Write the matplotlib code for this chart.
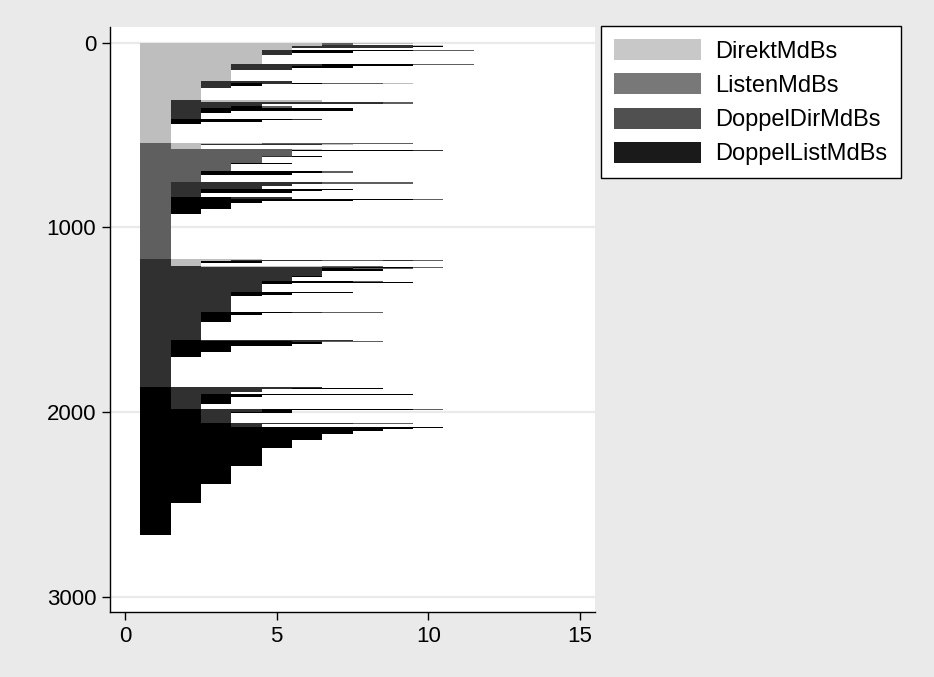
import matplotlib
matplotlib.use('Agg')
import matplotlib.pyplot as plt
from matplotlib.patches import Patch

plt.rcParams['font.family'] = ['Liberation Sans', 'DejaVu Sans']

# states: 1=DirektMdBs, 2=ListenMdBs, 3=DoppelDirMdBs, 4=DoppelListMdBs
state_labels = ['DirektMdBs', 'ListenMdBs', 'DoppelDirMdBs', 'DoppelListMdBs']
bar_colors = ['#bebebe', '#5f5f5f', '#303030', '#000000']
legend_colors = ['#c8c8c8', '#787878', '#505050', '#1a1a1a']

# sequences (one state per period) and number of MdBs with that sequence
direkt_seqs = ['111111211', '1111112', '1111113331', '111113333', '1111133334', '11111',
               '11113444422', '1111344', '11113', '1111',
               '11133344422', '111333444', '1113344', '11133', '111',
               '11333', '113434221', '1134', '113', '11',
               '131111', '133333332', '1333', '13342', '1344444', '134', '13',
               '1444', '144443', '14', '1']
direkt_counts = [5, 6, 5, 6, 6, 10,
                 8, 8, 10, 50,
                 6, 8, 8, 14, 57,
                 12, 6, 10, 8, 69,
                 8, 10, 15, 10, 12, 15, 30,
                 10, 8, 10, 104]

listen_seqs = ['211122222', '2133331', '21',
               '222221', '2222244443', '22222', '222234', '2222', '22244', '222',
               '2244442', '22444', '22',
               '233333222', '23333', '2333', '234444', '2344444', '23444', '23',
               '24433', '2444444', '2444444442', '2444', '244', '24', '2']
listen_counts = [6, 6, 20,
                 5, 5, 25, 8, 33, 5, 40,
                 8, 12, 39,
                 6, 12, 18, 6, 6, 8, 25,
                 8, 10, 4, 10, 30, 28, 241]

doppeldir_seqs = ['3113332232', '3111', '31444442', '3144', '31',
                  '33111122', '3322221', '333333', '33333344', '333333422', '3333333442',
                  '33333', '333334', '333344444', '33334442', '33334', '3333',
                  '33344', '3334444', '3334', '333', '33444322', '3344', '334', '33',
                  '3433333', '34444322', '344444', '34444', '344', '34', '3']
doppeldir_counts = [5, 6, 5, 6, 20,
                    3, 3, 27, 8, 6, 4,
                    20, 7, 6, 6, 6, 45,
                    8, 6, 8, 86, 6, 10, 38, 94,
                    8, 6, 10, 12, 32, 27, 160]

doppellist_seqs = ['433333', '43333444', '4333', '433', '434444444', '4344', '434', '43',
                   '4433444442', '44334', '44344', '443', '444333322', '4443',
                   '4444444444', '444444444', '44444444', '4444444', '444444222', '444444',
                   '44444', '4444', '444', '44', '4']
doppellist_counts = [6, 8, 12, 15, 6, 10, 35, 29,
                     5, 8, 8, 56, 6, 12,
                     3, 5, 10, 19, 4, 31,
                     45, 96, 97, 104, 170]


def sort_key(seq):
    # missing periods sort last (like Stata missing values)
    return [int(c) for c in seq] + [9] * (12 - len(seq))


groups = [(direkt_seqs, direkt_counts), (listen_seqs, listen_counts),
          (doppeldir_seqs, doppeldir_counts), (doppellist_seqs, doppellist_counts)]

bars = {s: ([], [], []) for s in range(4)}  # y, left, height
row = 0
for seqs, counts in groups:
    for seq, n in sorted(zip(seqs, counts), key=lambda t: sort_key(t[0])):
        for j, c in enumerate(seq):
            s = int(c) - 1
            bars[s][0].append(row)
            bars[s][1].append(j + 0.5)
            bars[s][2].append(n)
        row += n

fig = plt.figure(figsize=(9.34, 6.77), dpi=100, facecolor='#eaeaea')
ax = fig.add_axes([110 / 934, 1 - 612 / 677, (595 - 110) / 934, (612 - 27) / 677])
ax.set_facecolor('white')

for s in range(4):
    y, left, h = bars[s]
    ax.barh(y, [1] * len(y), left=left, height=h, align='edge',
            color=bar_colors[s], linewidth=0, zorder=2)

ax.set_xlim(-0.5, 15.5)
ax.set_ylim(3081, -85)
ax.set_xticks([0, 5, 10, 15])
ax.set_yticks([0, 1000, 2000, 3000])
ax.yaxis.grid(True, color='#eaeaea', linewidth=1.6, zorder=0)
ax.set_axisbelow(True)
for side in ['top', 'right']:
    ax.spines[side].set_visible(False)
for side in ['left', 'bottom']:
    ax.spines[side].set_linewidth(1.0)
ax.tick_params(axis='both', direction='out', length=6, width=1, labelsize=16, pad=4)

handles = [Patch(facecolor=legend_colors[i], edgecolor='none') for i in range(4)]
leg = fig.legend(handles, state_labels, loc='upper left',
                 bbox_to_anchor=(601 / 934, 1 - 26 / 677), fontsize=17,
                 frameon=True, fancybox=False, edgecolor='black', framealpha=1,
                 handlelength=3.7, handleheight=1.0, labelspacing=0.45,
                 handletextpad=0.6, borderpad=0.55, borderaxespad=0)
leg.get_frame().set_linewidth(1.0)

fig.savefig('out.png', dpi=100, facecolor=fig.get_facecolor())
